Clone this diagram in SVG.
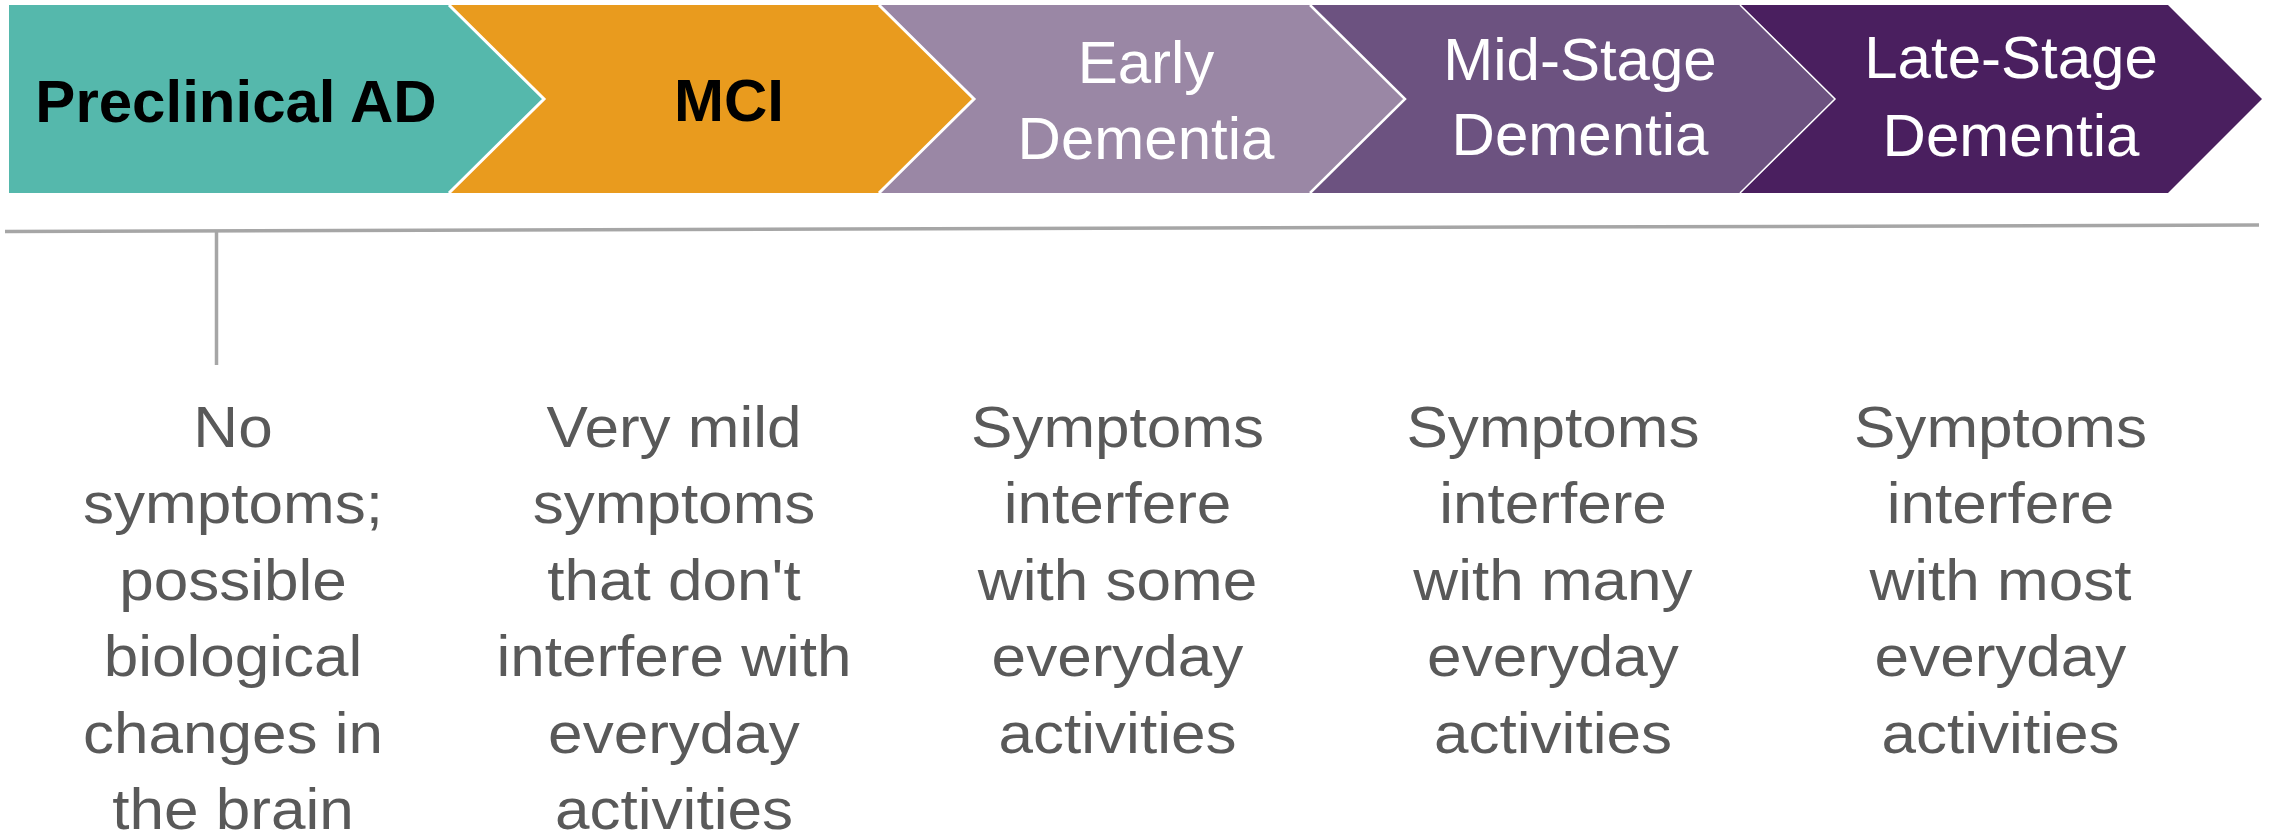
<svg xmlns="http://www.w3.org/2000/svg" width="2270" height="835" viewBox="0 0 2270 835">
  <style>
    .lbl { font-family: "Liberation Sans", Arial, sans-serif; font-size: 60px; text-anchor: middle; }
    .bold { font-weight: bold; fill: #000000; }
    .light { fill: #ffffff; }
    .desc { font-family: "Liberation Sans", Arial, sans-serif; font-size: 58px; fill: #595959; text-anchor: middle; }
    .sep { fill: none; stroke: #ffffff; stroke-linejoin: miter; }
    .rule { stroke: #a6a6a6; stroke-width: 3.5; fill: none; }
  </style>

  <!-- stage chevrons -->
  <g id="stage-preclinical">
    <polygon points="9,5 449,5 544,99 449,193 9,193" fill="#55b8ac"/>
    <text class="lbl bold" x="236" y="122">Preclinical AD</text>
  </g>
  <g id="stage-mci">
    <polygon points="449,5 879,5 974,99 879,193 449,193 544,99" fill="#e99b1e"/>
    <text class="lbl bold" x="729" y="121">MCI</text>
  </g>
  <g id="stage-early">
    <polygon points="879,5 1310,5 1405,99 1310,193 879,193 974,99" fill="#9a87a5"/>
    <text class="lbl light" x="1146" y="83">Early</text>
    <text class="lbl light" x="1146" y="159">Dementia</text>
  </g>
  <g id="stage-mid">
    <polygon points="1310,5 1740,5 1835,99 1740,193 1310,193 1405,99" fill="#6c5280"/>
    <text class="lbl light" x="1580" y="80">Mid-Stage</text>
    <text class="lbl light" x="1580" y="155">Dementia</text>
  </g>
  <g id="stage-late">
    <polygon points="1740,5 2168,5 2262,99 2168,193 1740,193 1835,99" fill="#4a1f5f"/>
    <text class="lbl light" x="2011" y="78">Late-Stage</text>
    <text class="lbl light" x="2011" y="156">Dementia</text>
  </g>

  <!-- white seams between the chevrons -->
  <g id="seams">
    <polyline class="sep" stroke-width="3" points="449,5 544,99 449,193"/>
    <polyline class="sep" stroke-width="3" points="879,5 974,99 879,193"/>
    <polyline class="sep" stroke-width="2.5" points="1310,5 1405,99 1310,193"/>
    <polyline class="sep" stroke-width="1.5" points="1740,5 1835,99 1740,193"/>
  </g>

  <!-- timeline rule and marker tick -->
  <g id="connectors">
    <line class="rule" x1="5" y1="231.5" x2="2259" y2="225"/>
    <line class="rule" x1="216.5" y1="231" x2="216.5" y2="365"/>
  </g>

  <!-- stage descriptions -->
  <g id="desc-preclinical" transform="matrix(1.07 0 0 1 233 0)">
    <text class="desc" x="0" y="447">No</text>
    <text class="desc" x="0" y="523.5">symptoms;</text>
    <text class="desc" x="0" y="600">possible</text>
    <text class="desc" x="0" y="676.5">biological</text>
    <text class="desc" x="0" y="753">changes in</text>
    <text class="desc" x="0" y="829.5">the brain</text>
  </g>
  <g id="desc-mci" transform="matrix(1.07 0 0 1 674 0)">
    <text class="desc" x="0" y="447">Very mild</text>
    <text class="desc" x="0" y="523.5">symptoms</text>
    <text class="desc" x="0" y="600">that don't</text>
    <text class="desc" x="0" y="676.5">interfere with</text>
    <text class="desc" x="0" y="753">everyday</text>
    <text class="desc" x="0" y="829.5">activities</text>
  </g>
  <g id="desc-early" transform="matrix(1.07 0 0 1 1117.5 0)">
    <text class="desc" x="0" y="447">Symptoms</text>
    <text class="desc" x="0" y="523.5">interfere</text>
    <text class="desc" x="0" y="600">with some</text>
    <text class="desc" x="0" y="676.5">everyday</text>
    <text class="desc" x="0" y="753">activities</text>
  </g>
  <g id="desc-mid" transform="matrix(1.07 0 0 1 1553 0)">
    <text class="desc" x="0" y="447">Symptoms</text>
    <text class="desc" x="0" y="523.5">interfere</text>
    <text class="desc" x="0" y="600">with many</text>
    <text class="desc" x="0" y="676.5">everyday</text>
    <text class="desc" x="0" y="753">activities</text>
  </g>
  <g id="desc-late" transform="matrix(1.07 0 0 1 2000.5 0)">
    <text class="desc" x="0" y="447">Symptoms</text>
    <text class="desc" x="0" y="523.5">interfere</text>
    <text class="desc" x="0" y="600">with most</text>
    <text class="desc" x="0" y="676.5">everyday</text>
    <text class="desc" x="0" y="753">activities</text>
  </g>
</svg>
